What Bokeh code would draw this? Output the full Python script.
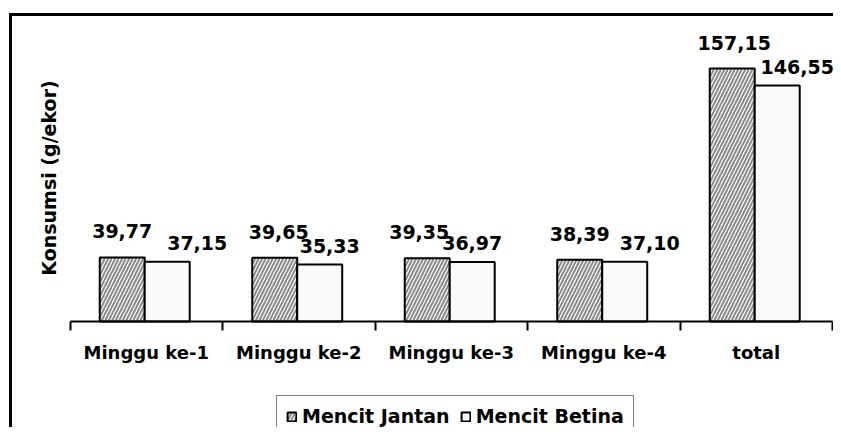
import numpy as np
from bokeh.plotting import figure
from bokeh.models import (ColumnDataSource, Range1d, FixedTicker, Legend, LegendItem,
                          Label)
from bokeh.core.properties import value
from bokeh.embed import file_html
from bokeh.resources import INLINE

# ---- data ----
categories = ["Minggu ke-1", "Minggu ke-2", "Minggu ke-3", "Minggu ke-4", "total"]
jantan = [39.77, 39.65, 39.35, 38.39, 157.15]
betina = [37.15, 35.33, 36.97, 37.10, 146.55]
series_names = ["Mencit Jantan", "Mencit Betina"]
y_title = "Konsumsi (g/ekor)"

# ---- styling helpers (label nudges in px) ----
jantan_dx = [0, 4, -8, 0, 2]
betina_dx = [30, 10, 0, 25, 20]

FONT = "DejaVu Sans"
W, H = 833, 427
bar_w = 0.295
centers = np.arange(len(categories)) + 0.5

def fmt(v):
    return f"{v:.2f}".replace(".", ",")

src_j = ColumnDataSource(dict(x=centers - bar_w / 2 - 0.01, top=jantan,
                              lab=[fmt(v) for v in jantan], dx=jantan_dx))
src_b = ColumnDataSource(dict(x=centers + bar_w / 2 - 0.01, top=betina,
                              lab=[fmt(v) for v in betina], dx=betina_dx))

px_per_cat = 152.5
x0_px = 69.5
px_per_unit = 1.6099
y0_px = 321
p = figure(width=W, height=H, output_backend="svg", toolbar_location=None,
           x_axis_location="above", y_axis_location=None,
           x_range=Range1d(-x0_px / px_per_cat, (W - x0_px) / px_per_cat),
           y_range=Range1d(-(H - y0_px) / px_per_unit, y0_px / px_per_unit),
           min_border=0)
p.background_fill_color = None
p.border_fill_color = None
p.outline_line_color = None
p.grid.visible = False
# outer chart border (only top and left edges fall inside the picture)
p.styles = {
    "background-color": "white",
    "background-image": "linear-gradient(black, black), linear-gradient(black, black)",
    "background-size": "100% 3px, 3px 100%",
    "background-position": "9px 13px, 9px 13px",
    "background-repeat": "no-repeat",
}

rj = p.vbar(x="x", top="top", width=bar_w, bottom=0, source=src_j,
            fill_color="white", hatch_pattern="/", hatch_color="#8a8a8a",
            hatch_scale=7, hatch_weight=2, line_color="black", line_width=2)
rb = p.vbar(x="x", top="top", width=bar_w, bottom=0, source=src_b,
            fill_color="#fafafa", line_color="black", line_width=2)

p.text(x="x", y="top", text="lab", source=src_j, x_offset="dx", y_offset=-26,
       text_font=value(FONT), text_font_style="bold", text_font_size="19px",
       text_align="center", text_baseline="middle", text_color="black")
p.text(x="x", y="top", text="lab", source=src_b, x_offset="dx", y_offset=-19,
       text_font=value(FONT), text_font_style="bold", text_font_size="19px",
       text_align="center", text_baseline="middle", text_color="black")

# x axis drawn at y = 0: labels at category centres, ticks at boundaries
xa = p.xaxis[0]
xa.fixed_location = 0
xa.bounds = (0, len(categories))
xa.ticker = FixedTicker(ticks=list(centers),
                        minor_ticks=list(range(len(categories) + 1)))
xa.major_label_overrides = {float(c): cat for c, cat in zip(centers, categories)}
xa.major_tick_out = 0
xa.major_tick_in = 0
xa.minor_tick_out = 0
xa.minor_tick_in = 9
xa.minor_tick_line_color = "black"
xa.minor_tick_line_width = 2
xa.axis_line_width = 2
xa.axis_line_color = "black"
xa.major_label_text_font = FONT
xa.major_label_text_font_style = "bold"
xa.major_label_text_font_size = "18px"
xa.major_label_text_color = "black"
xa.major_label_standoff = -41

# y axis title
p.add_layout(Label(x=48, y=H - 177.5, x_units="screen", y_units="screen",
                   text=y_title, angle=np.pi / 2, text_font=FONT,
                   text_font_style="bold", text_font_size="19px",
                   text_color="black", text_align="center",
                   text_baseline="middle"))

legend = Legend(items=[LegendItem(label=series_names[0], renderers=[rj]),
                       LegendItem(label=series_names[1], renderers=[rb])],
                orientation="horizontal", location=(276, -10),
                label_text_font=FONT, label_text_font_style="bold",
                label_text_font_size="19px", label_text_color="black",
                glyph_width=11, glyph_height=11, spacing=10, label_standoff=5,
                padding=9, margin=0, border_line_color="black",
                border_line_width=1.5, background_fill_color="white",
                background_fill_alpha=1)
p.add_layout(legend, "center")

open("out.html", "w").write(file_html(p, INLINE))
